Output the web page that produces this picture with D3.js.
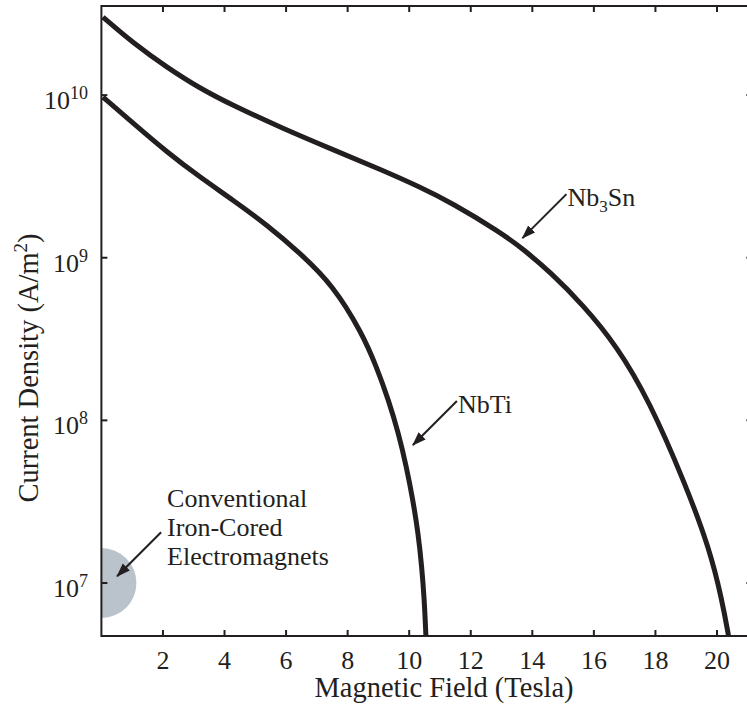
<!DOCTYPE html>
<html>
<head>
<meta charset="utf-8">
<script src="https://cdn.jsdelivr.net/npm/d3@7"></script>
<style>
  body { margin: 0; background: #fff; }
  svg { display: block; font-family: "Liberation Serif", "Times New Roman", serif; }
</style>
</head>
<body>
<svg id="chart"></svg>
<script>
// ---- data ----
var nb3snField = [0.05, 1.03, 2.13, 3.2, 4.28, 5.9, 7.52, 9.15, 10.35, 11.33, 12.95, 13.7, 14.58, 15.65, 16.75, 17.79, 18.96, 19.77, 20.16, 20.36, 20.45];
var nb3snJc    = [3.02e10, 2.09e10, 1.48e10, 1.10e10, 8.62e9, 6.23e9, 4.62e9, 3.44e9, 2.72e9, 2.20e9, 1.44e9, 1.13e9, 8.17e8, 5.12e8, 2.86e8, 1.33e8, 4.12e7, 1.60e7, 7.86e6, 4.93e6, 3.88e6];

var nbtiField = [0.05, 1.03, 2.13, 3.2, 4.28, 5.38, 6.45, 7.52, 8.47, 8.94, 9.33, 9.65, 9.91, 10.12, 10.29, 10.41, 10.49, 10.54, 10.56];
var nbtiJc    = [9.72e9, 6.73e9, 4.46e9, 3.13e9, 2.26e9, 1.59e9, 1.07e9, 6.80e8, 3.44e8, 2.13e8, 1.33e8, 8.36e7, 5.17e7, 3.24e7, 2.03e7, 1.25e7, 7.86e6, 4.93e6, 3.88e6];

var ironField = 0, ironJc = 1e7; // conventional magnets blob

var xTicks = [2, 4, 6, 8, 10, 12, 14, 16, 18, 20];
var yTicks = [1e7, 1e8, 1e9, 1e10];

// annotations: arrow tip in data units
var notes = [
  {lines: [["Nb", ""], ["3", "sub"], ["Sn", ""]], field: 13.68, jc: 1.32e9},
  {lines: [["NbTi", ""]], field: 10.12, jc: 7.05e7},
  {block: ["Conventional", "Iron-Cored", "Electromagnets"], field: 0.51, jc: 1.1e7}
];

/*************** settings *****************/
var width = 747, height = 713,
    m = {left: 101.4, right: 752.4, top: 6, bottom: 636}, // plot frame in px
    ink = "#231f20";

var svg = d3.select("#chart").attr("width", width).attr("height", height);

var x = d3.scaleLinear().domain([0, 21.15]).range([m.left, m.right]);
var y = d3.scaleLog().domain([Math.pow(10, 6.674), Math.pow(10, 10.548)]).range([m.bottom, m.top]);

var defs = svg.append("defs");
defs.append("clipPath").attr("id", "plotclip")
  .append("rect").attr("x", m.left).attr("y", m.top).attr("width", m.right - m.left).attr("height", m.bottom - m.top);

defs.append("marker")
  .attr("id", "arrow")
  .attr("markerUnits", "userSpaceOnUse")
  .attr("markerWidth", 14).attr("markerHeight", 12)
  .attr("refX", 13).attr("refY", 5)
  .attr("orient", "auto")
  .append("path").attr("d", "M0,0 L14,5 L0,10 Z").attr("fill", ink);

var plot = svg.append("g").attr("clip-path", "url(#plotclip)");

// grey circle for iron-cored magnets
plot.append("circle")
  .attr("cx", x(ironField)).attr("cy", y(ironJc)).attr("r", 35)
  .attr("fill", "#bac3cc");

var line = d3.line()
  .x(function(d) { return x(d[0]); })
  .y(function(d) { return y(d[1]); })
  .curve(d3.curveBasis); // smooths out reading wobble

[[nb3snField, nb3snJc], [nbtiField, nbtiJc]].forEach(function(s) {
  plot.append("path")
    .datum(d3.zip(s[0], s[1]))
    .attr("d", line)
    .attr("fill", "none")
    .attr("stroke", ink)
    .attr("stroke-width", 5);
});

/*************** axes *****************/
var tickLen = 6;
var axes = svg.append("g").attr("stroke", ink).attr("stroke-width", 2);

xTicks.forEach(function(t) {
  axes.append("line").attr("x1", x(t)).attr("x2", x(t)).attr("y1", m.bottom).attr("y2", m.bottom - tickLen);
  axes.append("line").attr("x1", x(t)).attr("x2", x(t)).attr("y1", m.top).attr("y2", m.top + tickLen);
});
yTicks.forEach(function(t) {
  axes.append("line").attr("x1", m.left).attr("x2", m.left + tickLen).attr("y1", y(t)).attr("y2", y(t));
  axes.append("line").attr("x1", m.right).attr("x2", m.right - tickLen).attr("y1", y(t)).attr("y2", y(t));
});
axes.append("rect")
  .attr("x", m.left).attr("y", m.top).attr("width", m.right - m.left).attr("height", m.bottom - m.top)
  .attr("fill", "none");

var labels = svg.append("g").attr("fill", ink).attr("font-size", 26);

xTicks.forEach(function(t) {
  labels.append("text").attr("x", x(t)).attr("y", 669).attr("text-anchor", "middle").text(t);
});
yTicks.forEach(function(t) {
  var txt = labels.append("text").attr("x", 88).attr("y", y(t) + 14).attr("text-anchor", "end");
  txt.append("tspan").text("10");
  txt.append("tspan").attr("font-size", 18).attr("dy", -10).text(Math.round(Math.log10(t)));
});

// axis titles
labels.append("text")
  .attr("x", 444).attr("y", 697).attr("text-anchor", "middle").attr("font-size", 28.5)
  .text("Magnetic Field (Tesla)");

var yt = labels.append("text")
  .attr("transform", "translate(38,368) rotate(-90)")
  .attr("text-anchor", "middle").attr("font-size", 28.5);
yt.append("tspan").text("Current Density (A/m");
yt.append("tspan").attr("font-size", 19).attr("dy", -11).text("2");
yt.append("tspan").attr("dy", 11).text(")");

/*************** annotations *****************/
notes.forEach(function(n) {
  var tx = x(n.field), ty = y(n.jc);
  var sx = tx + 44, sy = ty - 44;
  svg.append("line")
    .attr("x1", sx).attr("y1", sy).attr("x2", tx).attr("y2", ty)
    .attr("stroke", ink).attr("stroke-width", 2)
    .attr("marker-end", "url(#arrow)");
  if (n.block) {
    n.block.forEach(function(s, i) {
      labels.append("text").attr("x", sx + 6).attr("y", sy - 25 + i * 29).text(s);
    });
  } else {
    var t = labels.append("text").attr("x", sx + 1).attr("y", sy + 12);
    n.lines.forEach(function(p, i) {
      var sp = t.append("tspan").text(p[0]);
      if (p[1] == "sub") sp.attr("font-size", 17).attr("dy", 6);
      else if (i > 0) sp.attr("dy", -6);
    });
  }
});
</script>
</body>
</html>
